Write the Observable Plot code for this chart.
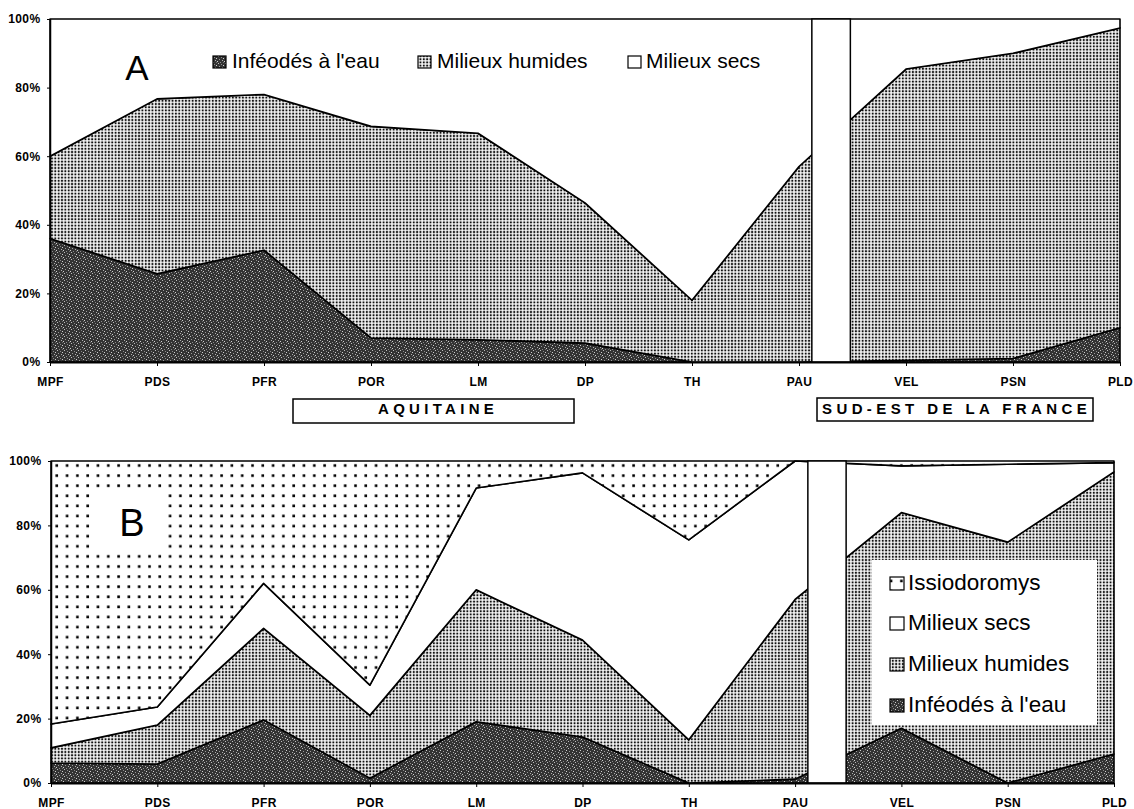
<!DOCTYPE html>
<html><head><meta charset="utf-8">
<script src="https://cdn.jsdelivr.net/npm/d3@7"></script>
<script src="https://cdn.jsdelivr.net/npm/@observablehq/plot@0.6"></script>
<style>
body{margin:0;background:#fff;font-family:Arial,"Liberation Sans",sans-serif;}
#wrap{position:relative;width:1134px;height:809px;overflow:hidden;background:#fff}
#wrap > svg{position:absolute;left:0}
</style></head><body>
<svg width="0" height="0" style="position:absolute">
 <defs>
  <pattern id="patHum" patternUnits="userSpaceOnUse" width="3.35" height="3.2">
   <rect width="3.35" height="3.2" fill="#fff"/>
   <rect x="0.7" y="0.6" width="2.0" height="2.0" fill="#111"/>
  </pattern>
  <pattern id="patIss" patternUnits="userSpaceOnUse" width="10.3" height="10.1">
   <rect width="10.3" height="10.1" fill="#fff"/>
   <rect x="4" y="4" width="2.6" height="2.6" fill="#000"/>
  </pattern>
  <pattern id="patDark" patternUnits="userSpaceOnUse" width="7" height="7">
   <rect width="7" height="7" fill="#333"/>
   <rect x="1" y="0" width="1" height="1" fill="#bdbdbd"/>
   <rect x="4" y="1" width="1" height="1" fill="#8a8a8a"/>
   <rect x="6" y="2" width="1" height="1" fill="#d0d0d0"/>
   <rect x="2" y="3" width="1" height="1" fill="#9a9a9a"/>
   <rect x="5" y="4" width="1" height="1" fill="#b0b0b0"/>
   <rect x="0" y="5" width="1" height="1" fill="#cfcfcf"/>
   <rect x="3" y="6" width="1" height="1" fill="#8c8c8c"/>
   <rect x="6" y="6" width="1" height="1" fill="#707070"/>
  </pattern>
 </defs>
</svg>
<div id="wrap"></div>
<script>
// ---- data ----
const sites = ["MPF","PDS","PFR","POR","LM","DP","TH","PAU","VEL","PSN","PLD"];
const groupsA = ["Inféodés à l'eau","Milieux humides","Milieux secs"];
const groupsB = ["Inféodés à l'eau","Milieux humides","Milieux secs","Issiodoromys"];
const regions = ["AQUITAINE","SUD-EST DE LA FRANCE"];

// Panel A (% of assemblage)
const infeodesA = [36, 25.7, 32.6, 7, 6.5, 5.5, 0, 0, 0.5, 1, 10];
const humidesA  = [24, 51, 45.4, 61.7, 60.2, 40.9, 18, 57, 84.9, 89, 87.4];
const secsA     = [40, 23.3, 22, 31.3, 33.3, 53.6, 82, 43, 14.6, 10, 2.6];

// Panel B (% of assemblage)
const infeodesB = [6.2, 5.9, 19.6, 1.5, 19, 14.3, 0, 1.2, 17, 0, 9];
const humidesB  = [4.7, 12.1, 28.4, 19.5, 41, 30.1, 13.4, 55.8, 67, 74.8, 87.6];
const secsB     = [7.4, 5.6, 14, 9.4, 31.6, 51.9, 62.1, 43, 14.5, 24.2, 2.9];
const issioB    = [81.7, 76.4, 38, 69.6, 8.4, 3.7, 24.5, 0, 1.5, 1, 0.5];

const yTicks = [0, 20, 40, 60, 80, 100];

// ---- styling ----
const fillOf = {
  "Inféodés à l'eau": "url(#patDark)",
  "Milieux humides": "url(#patHum)",
  "Milieux secs": "#ffffff",
  "Issiodoromys": "url(#patIss)"
};
const gap = {from: 7.12, to: 7.48};

function rowsFrom(groups, arrays) {
  const rows = [];
  groups.forEach((g, k) => arrays[k].forEach((v, i) => rows.push({site: i, share: v, group: g})));
  return rows;
}

function panel(groups, arrays, m) {
  const rows = rowsFrom(groups, arrays);
  return Plot.plot({
    width: 1134,
    height: m.top + m.plotH + m.bottom,
    marginTop: m.top, marginBottom: m.bottom, marginLeft: m.left, marginRight: m.right,
    style: {fontFamily: "Arial, 'Liberation Sans', sans-serif", fontSize: "12px", fontWeight: "bold", letterSpacing: "0.4px", color: "#000", background: "transparent", overflow: "visible"},
    x: {domain: [0, sites.length - 1], ticks: d3.range(sites.length), tickFormat: i => sites[i], tickSize: 4, tickPadding: 11, label: null},
    y: {domain: [0, 100], ticks: yTicks, tickFormat: d => d + "%", tickSize: 3, tickPadding: 7, label: null},
    color: {type: "ordinal", domain: groups, range: groups.map(g => fillOf[g])},
    marks: [
      Plot.areaY(rows, {x: "site", y: "share", z: "group", fill: "group", stroke: "#000", strokeWidth: 1.6, strokeLinejoin: "round"}),
      Plot.rect([gap], {x1: "from", x2: "to", y1: 0, y2: 100, fill: "#fff", stroke: "#000", strokeWidth: 1.5}),
      Plot.ruleX([0], {stroke: "#000", strokeWidth: 1.5}),
      Plot.ruleY([0], {stroke: "#000", strokeWidth: 1.8})
    ]
  });
}

const wrap = document.getElementById("wrap");
const svgA = panel(groupsA, [infeodesA, humidesA, secsA], {top: 19, plotH: 343, bottom: 30, left: 50, right: 14});
svgA.style.top = "0px";
wrap.appendChild(svgA);
const svgB = panel(groupsB, [infeodesB, humidesB, secsB, issioB], {top: 21, plotH: 322, bottom: 26, left: 51, right: 20});
svgB.style.top = "440px";
wrap.appendChild(svgB);

// ---- annotations overlay (legends, panel letters, region boxes) ----
const NS = "http://www.w3.org/2000/svg";
const ov = document.createElementNS(NS, "svg");
ov.setAttribute("width", 1134); ov.setAttribute("height", 809);
ov.style.top = "0px"; ov.style.pointerEvents = "none";
wrap.appendChild(ov);
function el(tag, attrs, text) {
  const e = document.createElementNS(NS, tag);
  for (const k in attrs) e.setAttribute(k, attrs[k]);
  if (text != null) e.textContent = text;
  ov.appendChild(e);
  return e;
}
const font = "Arial, 'Liberation Sans', sans-serif";

// Panel A letter & legend
el("text", {x: 137, y: 80, "text-anchor": "middle", "font-family": font, "font-size": 35}, "A");
const legA = [
  {g: groupsA[0], ix: 213, tx: 232},
  {g: groupsA[1], ix: 418, tx: 437},
  {g: groupsA[2], ix: 628, tx: 646}
];
legA.forEach(d => {
  el("rect", {x: d.ix, y: 56, width: 13, height: 12, fill: fillOf[d.g], stroke: "#000", "stroke-width": 1.2});
  el("text", {x: d.tx, y: 68, "font-family": font, "font-size": 21}, d.g);
});

// Region boxes
el("rect", {x: 293, y: 399, width: 281, height: 24, fill: "#fff", stroke: "#000", "stroke-width": 1.5});
el("text", {x: 378, y: 414, "font-family": font, "font-size": 15, "font-weight": "bold", "letter-spacing": "4.3px"}, regions[0]);
el("rect", {x: 817, y: 398, width: 276, height: 23, fill: "#fff", stroke: "#000", "stroke-width": 1.5});
el("text", {x: 822, y: 414, "font-family": font, "font-size": 15, "font-weight": "bold", "letter-spacing": "4.4px"}, regions[1]);

// Panel B letter & legend
el("rect", {x: 95, y: 488, width: 70, height: 65, fill: "#fff"});
el("text", {x: 132, y: 536, "text-anchor": "middle", "font-family": font, "font-size": 38}, "B");
el("rect", {x: 872, y: 560, width: 225, height: 165, fill: "#fff"});
const legB = [
  {g: groupsB[3], y: 590},
  {g: groupsB[2], y: 630},
  {g: groupsB[1], y: 671},
  {g: groupsB[0], y: 712}
];
legB.forEach(d => {
  el("rect", {x: 890, y: d.y - 13, width: 14, height: 13, fill: fillOf[d.g], stroke: "#000", "stroke-width": 1.2});
  el("text", {x: 908, y: d.y, "font-family": font, "font-size": 22.5}, d.g);
});
</script>
</body></html>
